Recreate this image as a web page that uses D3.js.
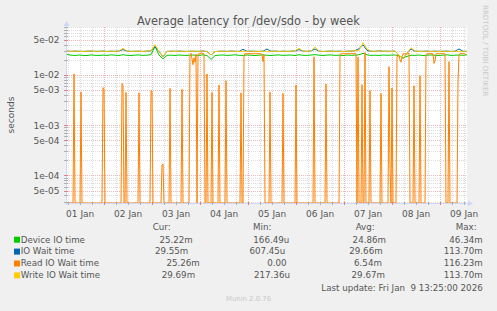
<!DOCTYPE html>
<html>
<head>
<meta charset="utf-8">
<script src="https://cdn.jsdelivr.net/npm/d3@7"></script>
<style>
  body { margin: 0; background: #F0F0F0; }
  svg { display: block; font-family: "DejaVu Sans", sans-serif; }
  text { white-space: pre; }
</style>
</head>
<body>
<div id="chart"></div>
<script>
// ---- data (latencies in ms) ----
var startTime = new Date(2026, 0, 1, 5, 25);
var endTime = new Date(2026, 0, 9, 13, 25);

var yTickValues = [5e-2, 1e-2, 5e-3, 1e-3, 5e-4, 1e-4, 5e-5];
var yTickLabels = ['5e-02', '1e-02', '5e-03', '1e-03', '5e-04', '1e-04', '5e-05'];

var seriesNames = ['Device IO time', 'IO Wait time', 'Read IO Wait time', 'Write IO Wait time'];
var seriesColors = ['#00CC00', '#0066B3', '#FF8000', '#FFCC00'];

// 2 hour samples
var deviceIO = [
  25.6, 24.9, 24.5, 25.0, 24.6, 24.4, 25.1, 24.7, 24.5, 24.9,
  24.6, 25.2, 24.8, 24.5, 25.3, 24.7, 24.4, 24.9, 25.1, 24.6,
  24.8, 25.4, 37.0, 25.0, 21.0, 24.6, 24.9, 24.5, 25.0, 24.7,
  24.5, 25.1, 24.8, 24.6, 25.2, 24.4, 20.5, 24.3, 24.9, 25.0,
  24.6, 24.8, 25.3, 24.7, 24.5, 25.0, 24.8, 24.4, 24.9, 25.2,
  24.7, 24.5, 24.9, 25.1, 24.6, 24.8, 25.0, 24.4, 25.3, 24.7,
  24.6, 25.0, 25.5, 24.8, 24.5, 24.9, 25.1, 24.6, 24.8, 24.4,
  25.0, 24.7, 24.9, 25.3, 27.0, 25.2, 24.6, 24.8, 24.5, 25.0,
  24.7, 24.9, 25.1, 24.0, 22.0, 23.5, 24.8, 24.6, 25.0, 24.4,
  24.8, 25.1, 24.7, 24.5, 24.9, 25.2, 24.6, 24.8, 25.0, 24.7, 25.22
];
var ioWait = [
  29.8, 29.6, 29.9, 29.7, 29.5, 29.8, 30.0, 29.6, 29.7, 29.9,
  29.5, 29.8, 29.6, 30.2, 32.0, 29.9, 29.6, 29.7, 29.8, 29.5,
  29.9, 30.4, 37.0, 29.6, 23.0, 29.5, 29.8, 29.6, 29.9, 29.7,
  29.5, 29.8, 29.7, 29.6, 30.1, 29.4, 25.0, 29.3, 29.7, 29.8,
  29.6, 29.9, 29.7, 29.5, 32.5, 29.6, 29.9, 29.7, 29.5, 29.8,
  33.0, 29.7, 29.9, 29.5, 29.8, 29.6, 29.7, 30.3, 32.0, 29.9,
  29.6, 30.2, 33.0, 29.8, 29.5, 29.7, 29.9, 29.6, 29.8, 29.5,
  29.7, 29.9, 30.5, 33.5, 40.0, 31.0, 29.8, 29.6, 30.5, 29.7,
  29.8, 29.6, 29.9, 25.0, 21.0, 27.0, 33.0, 29.8, 29.6, 29.7,
  29.9, 29.5, 29.8, 29.6, 29.7, 29.9, 29.5, 29.8, 33.0, 29.7, 29.55
];
var writeWait = [
  29.8, 29.6, 29.9, 29.7, 29.5, 29.8, 30.0, 29.6, 29.7, 29.9,
  29.5, 29.8, 29.6, 30.2, 34.0, 29.9, 29.6, 29.7, 29.8, 29.5,
  29.9, 30.4, 40.0, 29.6, 23.0, 29.5, 29.8, 29.6, 29.9, 29.7,
  29.5, 29.8, 29.7, 29.6, 30.1, 29.4, 25.0, 29.3, 29.7, 29.8,
  29.6, 29.9, 29.7, 29.5, 29.8, 29.6, 29.9, 29.7, 29.5, 29.8,
  29.6, 29.7, 29.9, 29.5, 29.8, 29.6, 29.7, 30.3, 34.0, 29.9,
  29.6, 30.2, 36.0, 29.8, 29.5, 29.7, 29.9, 29.6, 29.8, 29.5,
  29.7, 29.9, 30.5, 30.5, 44.0, 33.0, 29.8, 29.6, 30.5, 29.7,
  29.8, 29.6, 29.9, 25.0, 21.0, 27.0, 35.0, 29.8, 29.6, 29.7,
  29.9, 29.5, 29.8, 29.6, 29.7, 29.9, 29.5, 29.8, 29.6, 29.7, 29.69
];
// 30 minute samples
var readWait = [
  0, 0, 0, 0, 0, 0, 0, 10.5, 0, 0, 0, 0, 0, 0, 4.6, 0, 0, 0, 0, 0,
  0, 0, 0, 0, 0, 0, 0, 0, 0, 0, 0, 0, 0, 0, 0, 0, 5.6, 5.2, 0, 0,
  0, 0, 0, 0, 0, 0, 0, 0, 0, 0, 0, 0, 0, 0, 0, 6.8, 6.2, 0, 0, 4.5,
  0, 0, 0, 0, 0, 0, 0, 0, 0, 0, 0, 0, 4.4, 0, 0, 0, 0, 0, 0, 0,
  0, 0, 0, 0, 4.9, 4.7, 0, 0, 0, 0, 0, 0, 0, 0, 0, 0.16, 0.17, 0, 0, 0,
  0, 0, 0, 5.4, 0, 0, 0, 0, 0, 0, 0, 0, 0, 0, 0, 5.2, 0, 0, 0, 0,
  0, 0, 0, 25, 27, 21, 16, 22, 18, 26, 0, 25, 27, 26, 28, 27, 27, 26, 0, 0,
  10.5, 0, 0, 0, 0, 4.5, 0, 0, 0, 0, 0, 0, 6.3, 0, 0, 0, 0, 0, 0, 7.7,
  0, 0, 0, 0, 0, 0, 0, 0, 0, 0, 0, 0, 0, 0, 4.4, 0, 0, 24, 27, 26,
  27, 26, 27, 27, 26, 27, 26, 27, 27, 26, 27, 27, 26, 27, 26, 26, 18.5, 25, 0, 0,
  0, 0, 0, 4.6, 0, 0, 0, 0, 0, 0, 0, 0, 0, 0, 0, 0, 4.3, 0, 0, 0,
  0, 0, 0, 0, 0, 0, 0, 0, 0, 6.3, 0, 0, 0, 0, 0, 0, 0, 0, 0, 0,
  0, 0, 0, 0, 0, 0, 0, 23, 0, 0, 0, 0, 0, 0, 0, 0, 0, 0, 0, 6.6,
  0, 0, 0, 0, 0, 0, 0, 0, 0, 0, 0, 0, 0, 25, 27, 26, 27, 27, 26, 27,
  26, 27, 27, 26, 27, 27, 26, 27, 27, 26, 0, 22.6, 0, 0, 0, 6.4, 0, 0, 28, 0,
  0, 0, 0, 4.9, 0, 0, 0, 0, 0, 0, 0, 0, 0, 0, 4.3, 0, 0, 0, 0, 0,
  0, 0, 14.7, 0.14, 0, 5.5, 0, 0, 0, 0, 22, 26, 24, 20, 18, 23, 26, 27, 26, 27,
  27, 26, 27, 0, 0, 0, 0, 6.1, 0, 0, 0, 0, 0, 9.7, 0, 0, 0, 0, 0, 25,
  27, 26, 27, 27, 26, 27, 26, 17, 19, 26, 27, 27, 26, 27, 27, 26, 27, 27, 26, 0,
  0, 0, 18.5, 0, 0, 0, 0, 0, 0, 0, 0, 7, 25, 27, 27, 26, 27, 27, 26, 25.26
];

// legend statistics (seconds)
var curVals = [25.22e-3, 29.55e-3, 25.26e-3, 29.69e-3];
var minVals = [166.49e-6, 607.45e-6, 0, 217.36e-6];
var avgVals = [24.86e-3, 29.66e-3, 6.54e-3, 29.67e-3];
var maxVals = [46.34e-3, 113.70e-3, 116.23e-3, 113.70e-3];
var statHeaders = ['Cur:', 'Min:', 'Avg:', 'Max:'];

// ---- layout ----
var width = 497, height = 311;
var plot = {left: 67, right: 467, top: 27, bottom: 203};
var axisColor = '#CFD6F8';
var fontColor = '#555555';

var svg = d3.select('#chart').append('svg')
  .attr('width', width)
  .attr('height', height);

svg.append('rect')
  .attr('width', width).attr('height', height)
  .attr('fill', '#F0F0F0');

svg.append('rect')
  .attr('x', plot.left).attr('y', plot.top)
  .attr('width', plot.right - plot.left).attr('height', plot.bottom - plot.top)
  .attr('fill', '#FFFFFF');

var x = d3.scaleTime()
  .domain([startTime, endTime])
  .range([plot.left, plot.right]);

// 1e-2 sits at y=75 and one decade is ~50px
var y = d3.scaleLog()
  .domain([2.82e-5, 0.0904])
  .range([plot.bottom, plot.top]);
var yMin = y.domain()[0];

// ---- grid ----
var grid = svg.append('g');

var yGrid = [];
for (var e = -5; e <= -1; e++) {
  for (var m = 1; m <= 9; m++) {
    var v = m * Math.pow(10, e);
    if (v >= y.domain()[0] && v <= y.domain()[1]) yGrid.push({v: v, major: (m === 1 || m === 5)});
  }
}
grid.selectAll('line.yg').data(yGrid).enter().append('line')
  .attr('x1', plot.left).attr('x2', plot.right)
  .attr('y1', function(d) { return Math.round(y(d.v)) + 0.5; })
  .attr('y2', function(d) { return Math.round(y(d.v)) + 0.5; })
  .attr('stroke', function(d) { return d.major ? '#E9B8B8' : '#DCDCDC'; })
  .attr('stroke-dasharray', '1,1');

var xGrid = d3.timeHour.every(6).range(startTime, endTime).map(function(t) {
  return {t: t, major: t.getHours() === 0};
});
grid.selectAll('line.xg').data(xGrid).enter().append('line')
  .attr('x1', function(d) { return Math.round(x(d.t)) + 0.5; })
  .attr('x2', function(d) { return Math.round(x(d.t)) + 0.5; })
  .attr('y1', plot.top).attr('y2', plot.bottom)
  .attr('stroke', function(d) { return d.major ? '#E9B8B8' : '#DCDCDC'; })
  .attr('stroke-dasharray', '1,1');

// ---- series ----
svg.append('clipPath').attr('id', 'clip').append('rect')
  .attr('x', plot.left).attr('y', plot.top - 1)
  .attr('width', plot.right - plot.left).attr('height', plot.bottom - plot.top + 1);

function toPoints(values, stepMinutes) {
  return values.map(function(v, i) {
    return {t: d3.timeMinute.offset(startTime, i * stepMinutes), v: v / 1000};
  });
}

var line = d3.line()
  .x(function(d) { return x(d.t); })
  .y(function(d) { return y(Math.max(d.v, yMin)); });

var series = [
  toPoints(deviceIO, 120),
  toPoints(ioWait, 120),
  toPoints(readWait, 30),
  toPoints(writeWait, 120)
];

var lines = svg.append('g').attr('clip-path', 'url(#clip)');
series.forEach(function(pts, i) {
  lines.append('path')
    .attr('d', line(pts))
    .attr('fill', 'none')
    .attr('stroke', seriesColors[i])
    .attr('stroke-width', 1);
});

// ---- axes ----
var axes = svg.append('g');
axes.append('line')
  .attr('x1', plot.left - 2).attr('x2', plot.right + 2)
  .attr('y1', plot.bottom + 0.5).attr('y2', plot.bottom + 0.5)
  .attr('stroke', axisColor);
axes.append('line')
  .attr('x1', plot.left - 0.5).attr('x2', plot.left - 0.5)
  .attr('y1', plot.bottom + 2).attr('y2', plot.top - 2)
  .attr('stroke', axisColor);
axes.append('path')
  .attr('d', d3.line()([[plot.right + 1, plot.bottom - 2.5], [plot.right + 6, plot.bottom + 0.5], [plot.right + 1, plot.bottom + 3.5]]) + 'Z')
  .attr('fill', axisColor);
axes.append('path')
  .attr('d', d3.line()([[plot.left - 3.5, plot.top - 1], [plot.left - 0.5, plot.top - 6], [plot.left + 2.5, plot.top - 1]]) + 'Z')
  .attr('fill', axisColor);

// tick marks
axes.selectAll('line.xt').data(xGrid).enter().append('line')
  .attr('x1', function(d) { return Math.round(x(d.t)) + 0.5; })
  .attr('x2', function(d) { return Math.round(x(d.t)) + 0.5; })
  .attr('y1', plot.bottom - 1).attr('y2', plot.bottom + 2)
  .attr('stroke', function(d) { return d.major ? '#E08080' : '#B0B0B0'; });
axes.selectAll('line.yt').data(yGrid).enter().append('line')
  .attr('x1', plot.left - 3).attr('x2', plot.left + 1)
  .attr('y1', function(d) { return Math.round(y(d.v)) + 0.5; })
  .attr('y2', function(d) { return Math.round(y(d.v)) + 0.5; })
  .attr('stroke', function(d) { return d.major ? '#E08080' : '#B0B0B0'; });

// tick labels
axes.selectAll('text.yl').data(yTickValues).enter().append('text')
  .attr('x', 59.5)
  .attr('y', function(d) { return y(d) + 3.3; })
  .attr('text-anchor', 'end')
  .attr('font-size', 9)
  .attr('fill', fontColor)
  .text(function(d, i) { return yTickLabels[i]; });

var dayNoons = d3.timeDay.range(d3.timeDay.floor(startTime), endTime)
  .map(function(d) { return d3.timeHour.offset(d, 12); })
  .filter(function(d) { return d >= startTime && d <= endTime; });
axes.selectAll('text.xl').data(dayNoons).enter().append('text')
  .attr('x', function(d) { return x(d); })
  .attr('y', 216.5)
  .attr('text-anchor', 'middle')
  .attr('font-size', 9)
  .attr('fill', fontColor)
  .text(d3.timeFormat('%d %b'));

// ---- titles ----
svg.append('text')
  .attr('x', 248.5).attr('y', 25)
  .attr('text-anchor', 'middle')
  .attr('font-size', 11.4)
  .attr('fill', fontColor)
  .text('Average latency for /dev/sdo - by week');

svg.append('text')
  .attr('transform', 'translate(14,' + ((plot.top + plot.bottom) / 2) + ') rotate(-90)')
  .attr('text-anchor', 'middle')
  .attr('font-size', 9)
  .attr('fill', fontColor)
  .text('seconds');

svg.append('text')
  .attr('transform', 'translate(483,5) rotate(90)')
  .attr('font-size', 7.1)
  .attr('fill', '#C8C8C8')
  .text('RRDTOOL / TOBI OETIKER');

// ---- legend ----
var legend = svg.append('g')
  .attr('font-size', 8.7)
  .attr('fill', fontColor);

var headerX = [152.7, 253, 355.7, 455.7];
statHeaders.forEach(function(h, i) {
  legend.append('text').attr('x', headerX[i]).attr('y', 230).text(h);
});

function fmt(v) {
  var unit = '', n = v;
  if (v === 0) { unit = ''; }
  else if (v < 1e-3) { n = v * 1e6; unit = 'u'; }
  else { n = v * 1e3; unit = 'm'; }
  var s = n.toFixed(2);
  while (s.length < 6) s = ' ' + s;
  return s + unit;
}

// rrdtool \j : spread the row across the legend width
function justifyRow(items, left, right, baseline) {
  var texts = items.map(function(s) {
    return legend.append('text').attr('y', baseline).text(s);
  });
  var widths = texts.map(function(t) { return t.node().getComputedTextLength(); });
  var gap = (right - left - d3.sum(widths)) / (items.length - 1);
  var pos = left;
  texts.forEach(function(t, i) {
    t.attr('x', pos);
    pos += widths[i] + gap;
  });
}

var maxLen = d3.max(seriesNames, function(s) { return s.length; });
seriesNames.forEach(function(name, i) {
  var base = 242.5 + i * 11.9;
  legend.append('rect')
    .attr('x', 14).attr('y', base - 5.8)
    .attr('width', 6).attr('height', 6)
    .attr('fill', seriesColors[i]);
  var label = name;
  while (label.length < maxLen) label += ' ';
  justifyRow([label, fmt(curVals[i]), fmt(minVals[i]), fmt(avgVals[i]), fmt(maxVals[i])], 20.7, 482.7, base);
});

legend.append('text')
  .attr('x', 482.7).attr('y', 290.5)
  .attr('text-anchor', 'end')
  .text('Last update: Fri Jan  9 13:25:00 2026');

svg.append('text')
  .attr('x', 248.5).attr('y', 301)
  .attr('text-anchor', 'middle')
  .attr('font-size', 6.9)
  .attr('fill', '#C8C8C8')
  .text('Munin 2.0.76');
</script>
</body>
</html>
